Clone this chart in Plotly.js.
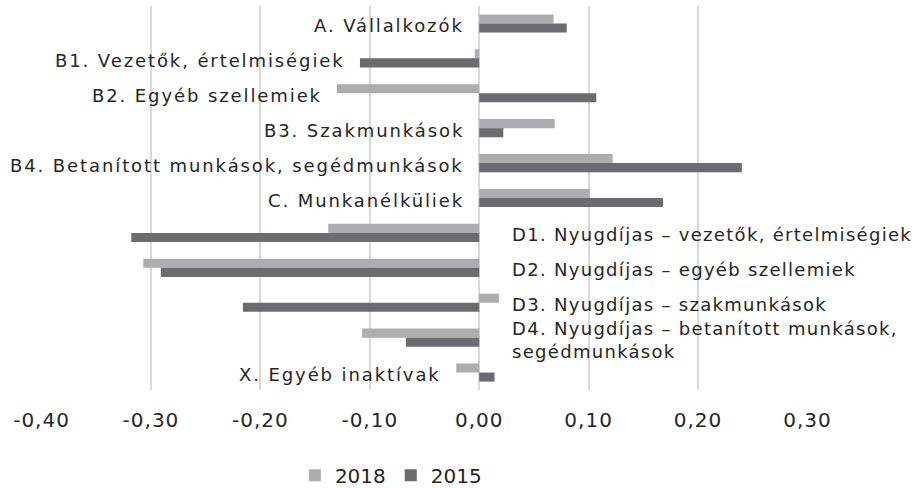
<!DOCTYPE html>
<html>
<head>
<meta charset="utf-8">
<script src="https://cdn.plot.ly/plotly-3.0.1.min.js"></script>
<style>
html,body{margin:0;padding:0;background:#fff;}
#chart{width:918px;height:488px;}
.annotation-text{letter-spacing:1.9px;}
.annotation[data-index="6"] .annotation-text,
.annotation[data-index="7"] .annotation-text,
.annotation[data-index="8"] .annotation-text,
.annotation[data-index="9"] .annotation-text{letter-spacing:1.3px;}
.xtick text{letter-spacing:1px;}
</style>
</head>
<body>
<div id="chart"></div>
<script>
const categories = [
  "A. Vállalkozók",
  "B1. Vezetők, értelmiségiek",
  "B2. Egyéb szellemiek",
  "B3. Szakmunkások",
  "B4. Betanított munkások, segédmunkások",
  "C. Munkanélküliek",
  "D1. Nyugdíjas – vezetők, értelmiségiek",
  "D2. Nyugdíjas – egyéb szellemiek",
  "D3. Nyugdíjas – szakmunkások",
  "D4. Nyugdíjas – betanított munkások,<br>segédmunkások",
  "X. Egyéb inaktívak"
];
const labelSide = ["L","L","L","L","L","L","R","R","R","R","L"];
const values2018 = [0.068, -0.004, -0.130, 0.069, 0.122, 0.101, -0.138, -0.307, 0.018, -0.107, -0.021];
const values2015 = [0.080, -0.109, 0.107, 0.022, 0.240, 0.168, -0.318, -0.291, -0.216, -0.067, 0.014];
const tickValues = [-0.4, -0.3, -0.2, -0.1, 0, 0.1, 0.2, 0.3];
const tickLabels = ["-0,40", "-0,30", "-0,20", "-0,10", "0,00", "0,10", "0,20", "0,30"];
const seriesNames = ["2018", "2015"];

const FONT = "DejaVu Sans, sans-serif";
const TXT = "#262626";

const traces = [
  {type: "bar", orientation: "h", name: seriesNames[0], y: categories, x: values2018,
   marker: {color: "#ADADB0"}, hoverinfo: "x"},
  {type: "bar", orientation: "h", name: seriesNames[1], y: categories, x: values2015,
   marker: {color: "#6B6B70"}, hoverinfo: "x"}
];

const annotations = categories.map((c, i) => {
  const left = labelSide[i] === "L";
  const xpos = left ? Math.min(0, values2018[i], values2015[i]) : 0;
  return {
    x: xpos, y: c, xref: "x", yref: "y",
    text: c, showarrow: false,
    xanchor: left ? "right" : "left",
    align: left ? "right" : "left",
    xshift: left ? -13 : 31, yshift: -2,
    font: {family: FONT, size: 18, color: TXT}
  };
});

const layout = {
  width: 918, height: 488,
  margin: {l: 41, r: 110, t: 6, b: 98, autoexpand: false},
  paper_bgcolor: "#fff", plot_bgcolor: "#fff",
  barmode: "group", bargap: 0.48, bargroupgap: 0,
  showlegend: true,
  legend: {orientation: "h", x: 0.331, xanchor: "left", y: -0.222, yanchor: "middle",
           font: {family: FONT, size: 20, color: TXT}, traceorder: "normal",
           itemwidth: 30, tracegroupgap: 0},
  xaxis: {range: [-0.4005, 0.3005], tickvals: tickValues, ticktext: tickLabels,
          showgrid: true, gridcolor: "#D9D9D9", gridwidth: 2,
          zeroline: true, zerolinecolor: "#D9D9D9", zerolinewidth: 2,
          showline: false, ticks: "", ticklen: 0, ticklabelstandoff: 16,
          tickfont: {family: FONT, size: 20, color: TXT}},
  yaxis: {type: "category", autorange: "reversed", showticklabels: false,
          showgrid: false, zeroline: false, showline: false, ticks: ""},
  annotations: annotations,
  font: {family: FONT, color: TXT}
};

Plotly.newPlot("chart", traces, layout, {displayModeBar: false, staticPlot: true});
</script>
</body>
</html>
